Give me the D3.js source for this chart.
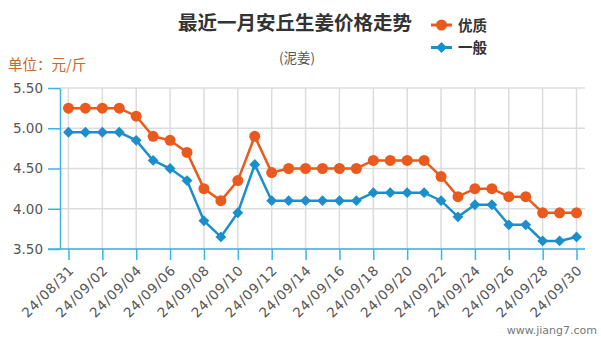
<!DOCTYPE html>
<html><head><meta charset="utf-8">
<script src="https://cdn.jsdelivr.net/npm/d3@7/dist/d3.min.js"></script>
<style>
body{margin:0;background:#fff;}
svg{display:block;}
</style></head>
<body><svg id="c" width="601" height="340"></svg>
<script>
const dates = ["24/08/31","24/09/01","24/09/02","24/09/03","24/09/04","24/09/05","24/09/06","24/09/07","24/09/08","24/09/09","24/09/10","24/09/11","24/09/12","24/09/13","24/09/14","24/09/15","24/09/16","24/09/17","24/09/18","24/09/19","24/09/20","24/09/21","24/09/22","24/09/23","24/09/24","24/09/25","24/09/26","24/09/27","24/09/28","24/09/29","24/09/30"];
const premium = [5.25,5.25,5.25,5.25,5.15,4.90,4.85,4.70,4.25,4.10,4.35,4.90,4.45,4.50,4.50,4.50,4.50,4.50,4.60,4.60,4.60,4.60,4.40,4.15,4.25,4.25,4.15,4.15,3.95,3.95,3.95];
const normal = [4.95,4.95,4.95,4.95,4.85,4.60,4.50,4.35,3.85,3.65,3.95,4.55,4.10,4.10,4.10,4.10,4.10,4.10,4.20,4.20,4.20,4.20,4.10,3.90,4.05,4.05,3.80,3.80,3.60,3.60,3.65];
const yTicks = [3.5,4.0,4.5,5.0,5.5];
const seriesNames = ["优质","一般"];
const title = "最近一月安丘生姜价格走势";
const subtitle = "(泥姜)";
const unitLabel = "单位：元/斤";
const credit = "www.jiang7.com";

const C_OR = "#ea5a1e", C_BL = "#1a8fcb", C_AX = "#3bb3e4", C_GR = "#dcdcdc";
const svg = d3.select("#c");
const L = 60, R = 585, T = 88, B = 249;
const x = d3.scalePoint().domain(dates).range([L, R]).padding(0.5);
const y = d3.scaleLinear().domain([3.5, 5.5]).range([B, T]);
const tickDates = dates.filter((d,i)=>i%2===0);

// grid
svg.append("g").selectAll("line").data(yTicks).join("line")
  .attr("x1", L).attr("x2", R).attr("y1", d=>y(d)).attr("y2", d=>y(d))
  .attr("stroke", C_GR).attr("stroke-width", 1.5);
svg.append("g").selectAll("line").data(tickDates).join("line")
  .attr("x1", d=>x(d)).attr("x2", d=>x(d)).attr("y1", T).attr("y2", B)
  .attr("stroke", C_GR).attr("stroke-width", 1.5);

// y axis
const ya = svg.append("g").attr("transform", `translate(${L},0)`)
  .call(d3.axisLeft(y).tickValues(yTicks).tickFormat(d3.format(".2f")).tickSize(12).tickSizeOuter(0));
ya.select(".domain").attr("stroke", C_AX).attr("stroke-width", 1.5);
ya.selectAll(".tick line").attr("stroke", C_AX).attr("stroke-width", 1.5);
ya.selectAll(".tick text").attr("fill", "#555").attr("font-size", 13.5).attr("font-family", "DejaVu Sans").attr("x", -17);

// x axis
const xa = svg.append("g").attr("transform", `translate(0,${B})`)
  .call(d3.axisBottom(x).tickValues(tickDates).tickSize(11).tickSizeOuter(0));
xa.select(".domain").attr("stroke", C_AX).attr("stroke-width", 1.5).attr("d", `M${L-12},0H${R}`);
xa.selectAll(".tick line").attr("stroke", C_AX).attr("stroke-width", 1.5);
xa.selectAll(".tick text").attr("fill", "#555").attr("font-size", 13.5).attr("font-family", "DejaVu Sans")
  .attr("letter-spacing", 0.8)
  .attr("text-anchor", "end").attr("y", 0).attr("dy", 0)
  .attr("transform", "translate(6,22) rotate(-45)");

// lines
const line = d3.line().x((d,i)=>x(dates[i])).y(d=>y(d));
svg.append("path").datum(premium).attr("d", line).attr("fill","none").attr("stroke", C_OR).attr("stroke-width", 2.5);
svg.append("path").datum(normal).attr("d", line).attr("fill","none").attr("stroke", C_BL).attr("stroke-width", 2.5);
svg.append("g").selectAll("circle").data(premium).join("circle")
  .attr("cx", (d,i)=>x(dates[i])).attr("cy", d=>y(d)).attr("r", 5.5).attr("fill", C_OR);
const diamond = d3.symbol().type(d3.symbolDiamond2).size(75);
svg.append("g").selectAll("path").data(normal).join("path")
  .attr("d", diamond).attr("transform", (d,i)=>`translate(${x(dates[i])},${y(d)})`).attr("fill", C_BL);

// titles
const CJK = "'Noto Sans CJK SC', sans-serif";
svg.append("text").attr("x", 295).attr("y", 30).attr("text-anchor","middle").attr("font-family", CJK)
  .attr("font-weight","bold").attr("font-size", 19.5).attr("fill","#333").text(title);
svg.append("text").attr("x", 297).attr("y", 63).attr("text-anchor","middle").attr("font-family", CJK)
  .attr("font-size", 13.5).attr("fill","#555").text(subtitle);
svg.append("text").attr("x", 8).attr("y", 70).attr("font-family", CJK)
  .attr("font-size", 14.5).attr("fill","#c8682a").text(unitLabel);
svg.append("text").attr("x", 597).attr("y", 334).attr("text-anchor","end").attr("font-family", "DejaVu Sans")
  .attr("font-size", 11).attr("fill","#777").text(credit);

// legend
const lg = svg.append("g");
[[C_OR, 25, "c"], [C_BL, 47.5, "d"]].forEach((s, i) => {
  lg.append("line").attr("x1", 431).attr("x2", 452).attr("y1", s[1]).attr("y2", s[1]).attr("stroke", s[0]).attr("stroke-width", 3);
  if (s[2] === "c") lg.append("circle").attr("cx", 441.5).attr("cy", s[1]).attr("r", 5.5).attr("fill", s[0]);
  else lg.append("path").attr("d", diamond).attr("transform", `translate(441.5,${s[1]})`).attr("fill", s[0]);
  lg.append("text").attr("x", 458).attr("y", s[1] + 5.5).attr("font-family", CJK).attr("font-weight","bold")
    .attr("font-size", 14.5).attr("fill", "#333").text(seriesNames[i]);
});
</script></body></html>
